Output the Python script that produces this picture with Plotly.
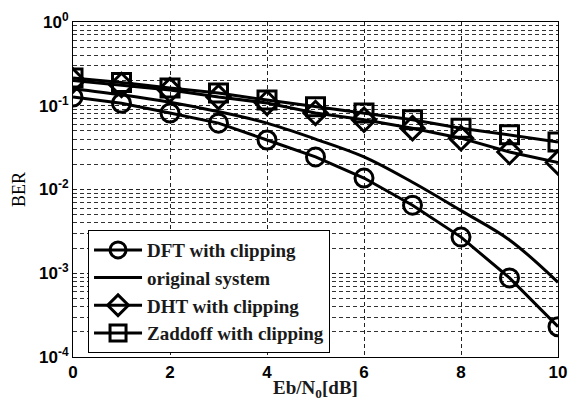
import plotly.graph_objects as go

ebn0 = [0, 1, 2, 3, 4, 5, 6, 7, 8, 9, 10]
ber_dft = [0.127, 0.107, 0.082, 0.062, 0.039, 0.0245, 0.0137, 0.0065, 0.0027, 0.00088, 0.00023]
ber_orig = [0.16, 0.135, 0.11, 0.085, 0.062, 0.040, 0.0245, 0.0122, 0.0056, 0.0025, 0.00078]
ber_dht = [0.20, 0.177, 0.154, 0.127, 0.108, 0.082, 0.068, 0.054, 0.041, 0.028, 0.021]
ber_zad = [0.215, 0.19, 0.163, 0.142, 0.117, 0.097, 0.082, 0.068, 0.054, 0.045, 0.037]

y_tick_vals = [1e-4, 1e-3, 1e-2, 1e-1, 1e0]
y_tick_text = ["<b>10<sup>-4</sup></b>", "<b>10<sup>-3</sup></b>", "<b>10<sup>-2</sup></b>",
               "<b>10<sup>-1</sup></b>", "<b>10<sup>0</sup></b>"]
x_tick_vals = [0, 2, 4, 6, 8, 10]
x_tick_text = ["<b>0</b>", "<b>2</b>", "<b>4</b>", "<b>6</b>", "<b>8</b>", "<b>10</b>"]

minor_vals = [m * 10 ** e for e in range(-4, 0) for m in range(2, 10)]

fig = go.Figure()
line = dict(color="black", width=3)
mk = dict(size=18, color="black", line=dict(color="black", width=3))

fig.add_trace(go.Scatter(x=ebn0, y=ber_dft, mode="lines+markers", name="DFT with clipping",
                         line=line, marker=dict(symbol="circle-open", **mk)))
fig.add_trace(go.Scatter(x=ebn0, y=ber_orig, mode="lines", name="original system",
                         line=dict(color="black", width=3, shape="spline")))
fig.add_trace(go.Scatter(x=ebn0, y=ber_dht, mode="lines+markers", name="DHT with clipping",
                         line=line, marker=dict(symbol="diamond-open", **mk)))
fig.add_trace(go.Scatter(x=ebn0, y=ber_zad, mode="lines+markers", name="Zaddoff with clipping",
                         line=line, marker=dict(symbol="square-open", **mk)))

tickfont = dict(family="Liberation Sans", size=17, color="black")
fig.update_layout(
    width=568, height=401,
    margin=dict(l=73, r=10, t=22, b=44),
    paper_bgcolor="white", plot_bgcolor="white",
    showlegend=True,
    legend=dict(x=0.031, y=0.379, xanchor="left", yanchor="top",
                bgcolor="white", bordercolor="black", borderwidth=1,
                font=dict(family="Liberation Serif", size=19, color="#1a1a1a", weight="bold"),
                tracegroupgap=0, itemwidth=48, entrywidth=215, entrywidthmode="pixels"),
    xaxis=dict(range=[0, 10], tickvals=x_tick_vals, ticktext=x_tick_text, tickfont=tickfont,
               automargin=False,
               showgrid=True, gridcolor="#222", griddash="4px,3px", gridwidth=1,
               showline=True, linecolor="black", linewidth=1, mirror=True, zeroline=False,
               ticks="", ticklabelstandoff=0,
               title=dict(text="<b>Eb/N<sub>0</sub>[dB]</b>",
                          font=dict(family="Liberation Serif", size=19, color="#1a1a1a"),
                          standoff=0)),
    yaxis=dict(type="log", range=[-4, 0], tickvals=y_tick_vals, ticktext=y_tick_text, tickfont=tickfont,
               automargin=False,
               showgrid=True, gridcolor="#222", griddash="4px,3px", gridwidth=1,
               minor=dict(tickvals=minor_vals, showgrid=True, gridcolor="#333",
                          griddash="4px,3px", gridwidth=1),
               showline=True, linecolor="black", linewidth=1, mirror=True, zeroline=False,
               ticks="",
               title=dict(text="BER", font=dict(family="Liberation Serif", size=18, color="black"),
                          standoff=8)),
)

fig.write_html("out.html")
